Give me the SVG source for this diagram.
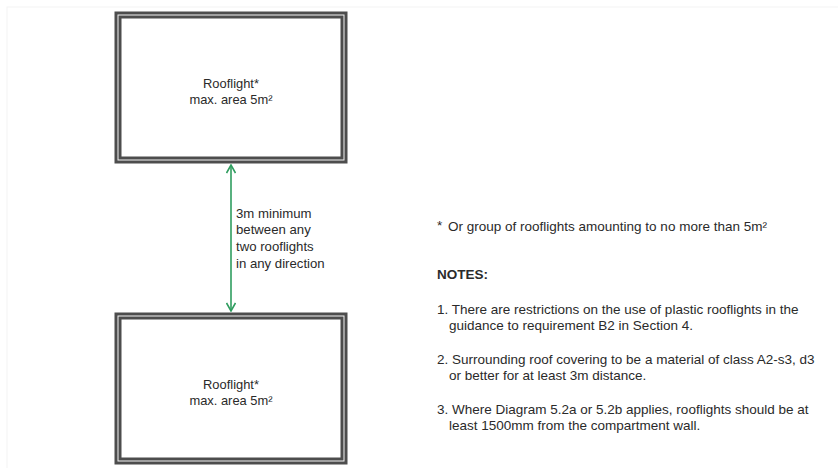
<svg xmlns="http://www.w3.org/2000/svg" width="838" height="468" viewBox="0 0 838 468">
<style>
.box-outer{fill:#fff;stroke:#4d4d4d;stroke-width:7}
.box-inner{fill:none;stroke:#f4f4f4;stroke-width:1}
.t{font-family:"Liberation Sans","Open Sans",sans-serif;font-size:13.5px;fill:#2a2a2a}
.bx{font-family:"Liberation Sans","Open Sans",sans-serif;font-size:12.9px;fill:#2a2a2a}
.lbl{font-family:"Liberation Sans","Open Sans",sans-serif;font-size:13.2px;fill:#2a2a2a}
.b{font-weight:bold}
.conn{stroke:#2f9d5f;stroke-width:1.6;fill:none}
</style>
<defs>
<marker id="ah" viewBox="0 0 10 10" refX="9" refY="5" markerWidth="10" markerHeight="10" markerUnits="userSpaceOnUse" orient="auto-start-reverse">
<path d="M1,0.5 L9,5 L1,9.5" fill="none" stroke="#2f9d5f" stroke-width="1.6"/>
</marker>
</defs>
<rect width="838" height="468" fill="#fff"/>
<rect x="7" y="7" width="840" height="470" fill="none" stroke="#f3f3f3" stroke-width="1"/>
<g id="rooflight-top">
<rect class="box-outer" x="118" y="15" width="226" height="145"/>
<rect class="box-inner" x="118" y="15" width="226" height="145"/>
<text class="bx" x="231" y="88" text-anchor="middle">Rooflight*</text>
<text class="bx" x="231" y="104" text-anchor="middle">max. area 5m²</text>
</g>
<g id="rooflight-bottom">
<rect class="box-outer" x="118" y="316" width="226" height="145"/>
<rect class="box-inner" x="118" y="316" width="226" height="145"/>
<text class="bx" x="231" y="389" text-anchor="middle">Rooflight*</text>
<text class="bx" x="231" y="405" text-anchor="middle">max. area 5m²</text>
</g>
<g id="connectors">
<line class="conn" x1="231" y1="165" x2="231" y2="311" marker-start="url(#ah)" marker-end="url(#ah)"/>
</g>
<g id="distance-label">
<text class="lbl" x="236" y="218">3m minimum</text>
<text class="lbl" x="236" y="234">between any</text>
<text class="lbl" x="236" y="251">two rooflights</text>
<text class="lbl" x="236" y="268">in any direction</text>
</g>
<g id="notes">
<text class="t" x="437" y="230">*</text>
<text class="t" x="448" y="231">Or group of rooflights amounting to no more than 5m²</text>
<text class="t b" x="437" y="279">NOTES:</text>
<text class="t" x="437" y="314">1. There are restrictions on the use of plastic rooflights in the</text>
<text class="t" x="449" y="330">guidance to requirement B2 in Section 4.</text>
<text class="t" x="437" y="364">2. Surrounding roof covering to be a material of class A2-s3, d3</text>
<text class="t" x="449" y="380">or better for at least 3m distance.</text>
<text class="t" x="437" y="414">3. Where Diagram 5.2a or 5.2b applies, rooflights should be at</text>
<text class="t" x="449" y="430">least 1500mm from the compartment wall.</text>
</g>
</svg>
